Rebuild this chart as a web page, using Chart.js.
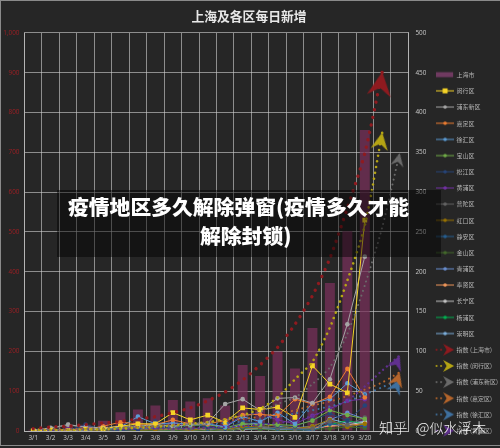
<!DOCTYPE html>
<html><head><meta charset="utf-8">
<style>
html,body{margin:0;padding:0;background:#262626;overflow:hidden}
#wrap{position:relative;width:500px;height:448px;overflow:hidden}
canvas{position:absolute;left:0;top:0;filter:blur(0.3px)}
#frame{position:absolute;left:0;top:0;width:500px;height:446px;border-top:1px solid #8a8a8a;border-left:1px solid #8a8a8a;border-bottom:1px solid #8a8a8a;box-sizing:border-box;pointer-events:none}
#band{position:absolute;left:57px;top:190px;width:384px;height:67px;background:rgba(0,0,0,.45)}
.head{position:absolute;color:#fff;font:900 20.8px/29px "Noto Sans CJK SC",sans-serif;white-space:nowrap}
#h1{left:68px;top:192px}
#h2{left:200px;top:221px}
#mark{position:absolute;left:379px;top:416px;color:#fff;font:300 14.2px/22px "Noto Sans CJK SC",sans-serif;word-spacing:6px;white-space:nowrap;opacity:.92}
</style>
<script src="https://cdn.jsdelivr.net/npm/chart.js@4"></script>
</head><body>
<div id="wrap">
<canvas id="c" width="500" height="448"></canvas>
<div id="frame"></div>
<div id="band"></div>
<div class="head" id="h1">疫情地区多久解除弹窗(疫情多久才能</div>
<div class="head" id="h2">解除封锁)</div>
<div id="mark">知乎 @似水浮木</div>
</div>
<script>
const chartTitle = '上海及各区每日新增';
const days = ['3/1','3/2','3/3','3/4','3/5','3/6','3/7','3/8','3/9','3/10','3/11','3/12','3/13','3/14','3/15','3/16','3/17','3/18','3/19','3/20','',''];

const shanghai = [3,6,14,16,26,47,54,64,78,74,82,64,166,138,200,157,259,372,502,756];
const minhang  = [0,1,0,2,3,6,9,9,23,14,20,11,29,27,30,17,82,59,48,265];
const pudong   = [1,4,8,5,4,6,6,8,6,8,10,34,40,26,41,42,35,65,134,219];
const jiading  = [0,1,1,2,6,11,9,8,14,9,9,13,20,21,19,40,34,43,78,42];
const xuhui    = [0,0,1,1,3,5,18,9,10,9,9,5,18,12,23,9,35,40,60,46];
const baoshan  = [0,1,1,2,2,3,5,8,6,7,8,4,9,8,8,7,13,26,20,15];
const songjiang= [0,0,1,8,2,1,2,12,6,8,5,3,12,10,7,6,14,22,13,32];
const huangpu  = [0,1,2,4,3,2,4,5,10,7,8,6,20,22,14,9,19,28,38,40];
const putuo    = [0,2,8,3,2,3,4,4,2,3,4,2,10,6,4,3,3,12,8,17];
const hongkou  = [0,0,0,1,1,2,1,2,3,1,4,1,6,5,8,3,6,14,5,9];
const jingan   = [0,0,0,1,1,1,2,3,4,2,3,1,5,4,3,2,1,9,6,7];
const jinshan  = [0,0,0,0,0,1,0,1,1,0,1,0,3,2,1,1,2,3,5,4];
const qingpu   = [0,0,1,2,1,1,3,2,4,3,3,1,8,10,6,4,6,14,23,15];
const fengxian = [0,0,0,1,1,1,2,1,2,1,2,1,3,4,3,3,4,6,7,9];
const changning= [1,1,1,2,1,2,2,3,2,2,1,2,3,4,3,3,2,7,8,11];
const yangpu   = [0,1,0,0,1,0,1,2,1,2,3,2,5,3,4,3,2,8,13,9];
const chongming= [0,0,0,0,0,1,1,1,1,1,1,1,2,2,2,2,1,15,10,12];

const trendShanghai = [3,5,6,8,10,12,15,18,23,29,38,49,64,83,105,134,170,217,280,349,451];
const trendMinhang  = [1,1,1,2,2,3,4,5,7,9,11,15,20,28,42,65,87,130,189,258,375];
const trendPudong   = [1,2,2,3,3,4,5,6,7,9,11,14,18,24,34,42,59,80,122,183,256,349];
const trendJiading  = [2,2,2,3,3,4,5,6,8,9,11,13,15,18,22,26,32,37,44,52,61,74];
const trendXuhui    = [1,1,2,2,3,4,4,5,6,7,9,10,12,15,18,22,26,31,37,46,55,65];
const trendHuangpu  = [1,1,1,2,2,2,3,3,3,3,4,5,6,8,10,13,19,28,38,56,76,95];

const lineNames = ['闵行区','浦东新区','嘉定区','徐汇区','宝山区','松江区','黄浦区','普陀区','虹口区','静安区','金山区','青浦区','奉贤区','长宁区','杨浦区','崇明区'];
const lineValues = [minhang,pudong,jiading,xuhui,baoshan,songjiang,huangpu,putuo,hongkou,jingan,jinshan,qingpu,fengxian,changning,yangpu,chongming];
const lineColors = ['#f5d327','#a5a5a5','#ed7d31','#5b9bd5','#70ad47','#264478','#7030a0','#636363','#997300','#255e91','#43682b','#698ed0','#f1975a','#c4c4c4','#00b050','#7cafdd'];

const trendNames = ['指数 (上海市)','指数 (闵行区)','指数 (浦东新区)','指数 (嘉定区)','指数 (徐汇区)','指数 (黄浦区)'];
const trendValues = [trendShanghai,trendMinhang,trendPudong,trendJiading,trendXuhui,trendHuangpu];
const trendColors = ['#8f1a1f','#b5a514','#6a6a6a','#b5652b','#3f709f','#60308f'];
const trendDotSize = [3.4,2.6,2,2.1,2.1,2.3];
const trendDotGap  = [7.6,5.8,5,5.4,5.4,5];
const trendArrowSize = [1,.72,.55,.62,.62,.62];
const trendArrowTurn = [8,10,12,18,26,22];

function arrowCanvas(color,scale){
  const s=Math.ceil(56*scale)+2,c=document.createElement('canvas');c.width=c.height=s;
  const g=c.getContext('2d');g.translate(s/2,s/2);g.scale(scale,scale);
  g.fillStyle=color;g.beginPath();g.moveTo(0,0);g.lineTo(12,24);g.lineTo(0,16);g.lineTo(-12,24);g.closePath();g.fill();
  return c;
}
function swatchLine(color,square){
  const c=document.createElement('canvas');c.width=18;c.height=8;const g=c.getContext('2d');
  g.strokeStyle=color;g.lineWidth=1;g.beginPath();g.moveTo(0,4);g.lineTo(18,4);g.stroke();
  g.fillStyle=color;
  if(square){g.fillRect(6.5,1.5,5,5);}else{g.beginPath();g.arc(9,4,1.8,0,7);g.fill();}
  return c;
}
function swatchBar(color){
  const c=document.createElement('canvas');c.width=18;c.height=8;const g=c.getContext('2d');
  g.fillStyle=color;g.fillRect(0,1.5,17,5);return c;
}
function swatchTrend(color){
  const c=document.createElement('canvas');c.width=20;c.height=14;const g=c.getContext('2d');
  g.fillStyle=color;
  [1.5,6].forEach(x=>{g.beginPath();g.arc(x,7,1,0,7);g.fill();});
  g.beginPath();g.moveTo(19,7);g.lineTo(8,1);g.lineTo(11.5,7);g.lineTo(8,13);g.closePath();g.fill();
  return c;
}

const barColor='rgba(122,48,92,.72)';
const datasets=[];
lineNames.forEach((n,i)=>datasets.push({type:'line',label:n,data:lineValues[i],yAxisID:'y1',order:2,
  borderColor:lineColors[i],backgroundColor:lineColors[i],borderWidth:1,pointRadius:i===0?3.4:2.3,pointStyle:i===0?'rect':'circle',
  pointBorderWidth:0,tension:0,_swatch:swatchLine(lineColors[i],i===0)}));
trendNames.forEach((n,i)=>{
  const last=trendValues[i].length-1,arrow=arrowCanvas(trendColors[i],trendArrowSize[i]);
  datasets.push({type:'line',label:n,data:trendValues[i],yAxisID:'y1',order:1,
    borderColor:trendColors[i],backgroundColor:trendColors[i],borderWidth:trendDotSize[i],
    borderDash:[0.01,trendDotGap[i]],borderCapStyle:'round',tension:.25,
    pointRadius:c=>c.dataIndex===last?5:0,pointStyle:c=>c.dataIndex===last?arrow:'circle',
    pointRotation:trendArrowTurn[i],_swatch:swatchTrend(trendColors[i])});
});
datasets.splice(0,0,{type:'bar',label:'上海市',data:shanghai,yAxisID:'y',order:5,backgroundColor:barColor,
  barPercentage:.57,categoryPercentage:1,_swatch:swatchBar('#6f3a60')});

const tickFont={family:'"Open Sans",sans-serif',size:6.4};
const gridColor='rgba(205,205,205,.62)';

const nudgeLegend={id:'nudgeLegend',afterLayout(chart){
  const l=chart.legend;l.top+=61.5;l.bottom+=61.5;l.left-=0;l.right-=0;
  const t=chart.titleBlock;t.left-=5;t.right-=5;
}};

new Chart(document.getElementById('c'),{
  data:{labels:days,datasets},
  plugins:[nudgeLegend,{id:'bg',beforeDraw(ch){ch.ctx.save();ch.ctx.fillStyle='#262626';ch.ctx.fillRect(0,0,500,448);ch.ctx.restore();}}],
  options:{responsive:false,animation:false,devicePixelRatio:1,
    layout:{padding:{right:-8}},
    plugins:{
      title:{display:true,text:chartTitle,color:'#e8e8e8',font:{family:'"Noto Sans CJK SC",sans-serif',size:12.8,weight:'bold'},padding:{top:8,bottom:9.6}},
      tooltip:{enabled:false},
      legend:{position:'right',align:'start',
        labels:{usePointStyle:true,pointStyleWidth:17,boxHeight:6,padding:10.18,color:'#b4b4b4',
          font:{family:'"Noto Sans CJK SC",sans-serif',size:6},
          generateLabels:ch=>ch.data.datasets.map((d,i)=>({text:d.label,fontColor:'#b4b4b4',pointStyle:d._swatch,datasetIndex:i,hidden:false,lineWidth:0,strokeStyle:'transparent',fillStyle:'transparent'}))}}
    },
    scales:{
      x:{offset:true,grid:{offset:true,color:gridColor,drawTicks:false},border:{color:gridColor},
        ticks:{color:'#c8c8c8',font:tickFont,autoSkip:false,maxRotation:0,padding:3},
        afterFit:s=>{s.height=17;}},
      y:{position:'left',min:0,max:1000,grid:{color:gridColor,drawTicks:false},border:{color:gridColor},
        ticks:{stepSize:100,color:'#9c1f24',font:tickFont,padding:5},
        afterFit:s=>{s.width=24.5;}},
      y1:{position:'right',min:0,max:500,grid:{display:false,drawTicks:false},border:{color:gridColor},
        ticks:{stepSize:50,color:'#c8c8c8',font:tickFont,padding:7},
        afterFit:s=>{s.width=18;}}
    }
  }
});
</script>
</body></html>
